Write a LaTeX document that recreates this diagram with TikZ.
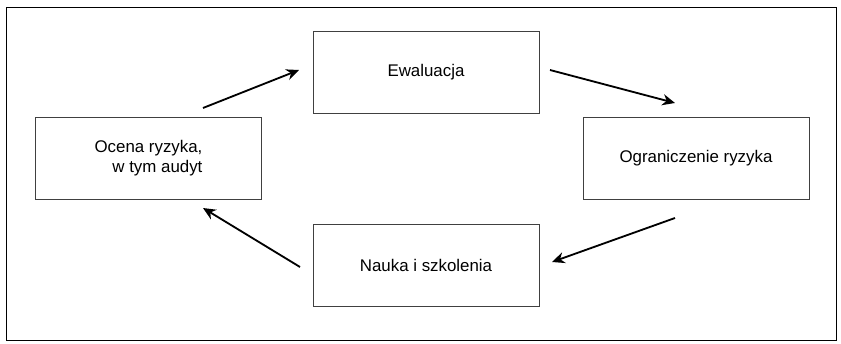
\documentclass[tikz,border=0pt]{standalone}
\usepackage{fontspec}
\setmainfont{Liberation Sans}
\usepackage{tikz}
\usetikzlibrary{arrows.meta,positioning,calc}
\tikzstyle{block} = [rectangle, minimum width=5.65cm, minimum height=2.05cm, align=center, draw=black!75, line width=0.7pt, fill=white, font=\fontsize{12}{14.5}\selectfont]
\tikzstyle{arrow} = [line width=1.3pt, -{Stealth[length=9pt,width=8pt]}]

\begin{document}
\begin{tikzpicture}
                \useasboundingbox (0,0) rectangle (21.025,8.575);
                \draw[line width=0.6pt] (0.16,0.075) rectangle (20.9,8.4);

                \node[block] (ewal) at (10.65,6.775) {Ewaluacja};
                \node[block, align=right] (ocena) at (3.7125,4.625) {Ocena ryzyka,\\w tym audyt};
                \node[block] (ogran) at (17.4,4.625) {Ograniczenie ryzyka};
                \node[block] (nauka) at (10.65,1.95) {Nauka i szkolenia};

                % arrows do not touch the boxes
                \coordinate (a1) at (5.075,5.875);
                \coordinate (b1) at (7.475,6.825);
                \coordinate (a2) at (13.75,6.825);
                \coordinate (b2) at (16.875,6.0);
                \coordinate (a3) at (16.875,3.125);
                \coordinate (b3) at (13.8,2.025);
                \coordinate (a4) at (7.5,1.9);
                \coordinate (b4) at (5.075,3.375);

                \draw[arrow] (a1) -- (b1);
                \draw[arrow] (a2) -- (b2);
                \draw[arrow] (a3) -- (b3);
                \draw[arrow] (a4) -- (b4);
            \end{tikzpicture}
\end{document}
